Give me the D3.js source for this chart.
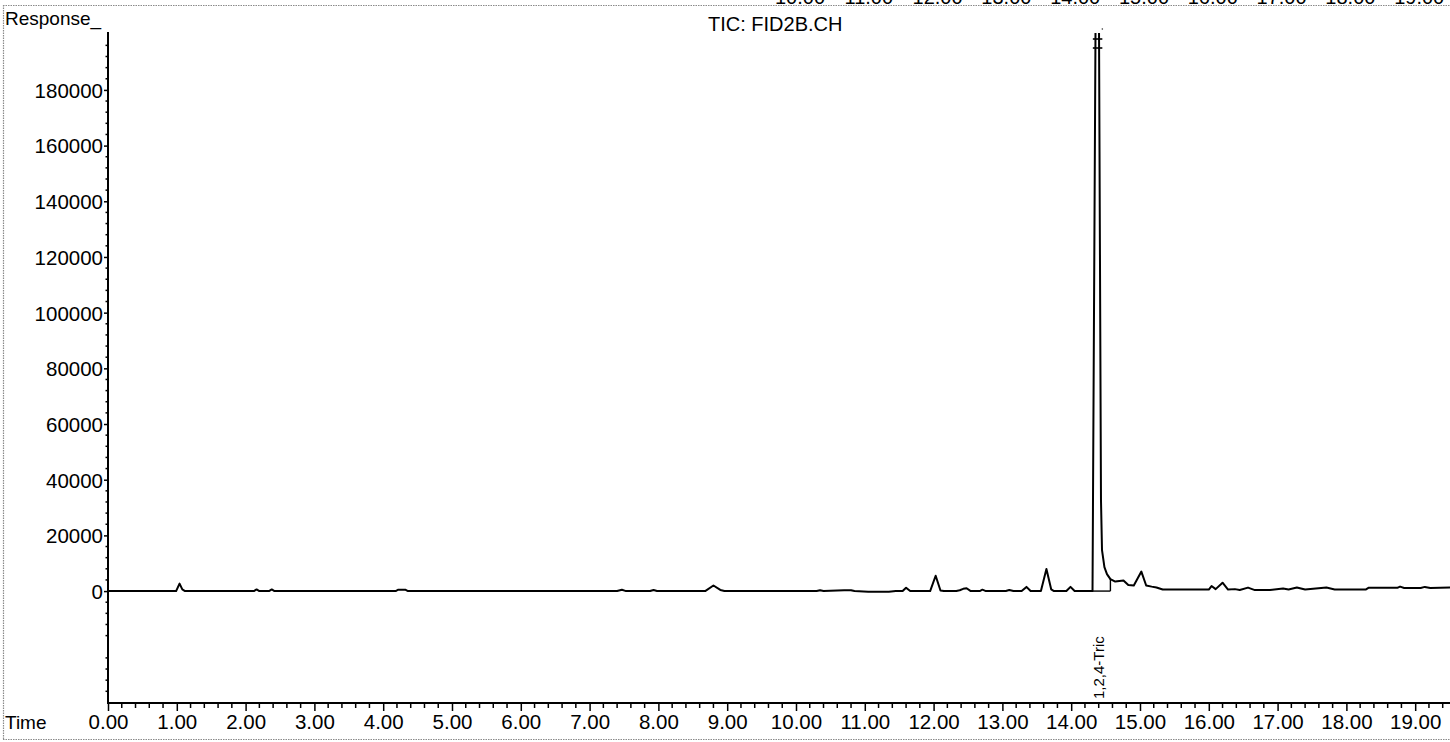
<!DOCTYPE html>
<html><head><meta charset="utf-8">
<script src="https://cdn.jsdelivr.net/npm/d3@7"></script>
<style>
body{margin:0;background:#fff}
svg{display:block}
text{font-family:"Liberation Sans",Arial,Helvetica,sans-serif;fill:#000}
</style>
</head><body>
<svg id="c" width="1450" height="742"></svg>
<script>
// ---- data (retention time in min, detector response) ----
const times = [0,0.99,1.04,1.08,1.12,2.12,2.16,2.20,2.34,2.38,2.42,4.18,4.22,4.32,4.36,
  7.40,7.47,7.53,7.88,7.93,7.98,8.68,8.80,8.90,8.96,10.30,10.35,10.40,10.70,10.80,10.85,
  11.05,11.35,11.45,11.55,11.60,11.66,11.95,12.03,12.10,12.15,12.33,12.38,12.43,12.48,12.54,
  12.67,12.71,12.76,13.05,13.10,13.16,13.28,13.35,13.41,13.56,13.64,13.71,13.75,13.93,13.99,14.05,
  14.31,14.382,14.433,14.448,14.483,14.52,14.57,14.64,14.76,14.83,14.91,15.02,15.09,15.17,15.24,15.33,
  16.0,16.04,16.10,16.20,16.28,16.38,16.45,16.57,16.67,16.89,17.08,17.16,17.28,17.40,17.71,17.83,
  18.28,18.32,18.74,18.78,18.84,19.08,19.14,19.22,19.51];
const responses = [0,0,2700,600,0,0,600,0,0,600,0,0,500,500,0,
  0,500,0,0,400,0,0,2000,400,0,0,300,0,300,300,0,
  -200,-200,0,0,1200,0,0,5500,200,0,0,300,800,1000,0,
  0,500,0,0,400,0,0,1500,0,0,7900,600,0,0,1500,0,
  0,334000,32700,14700,8600,6100,4300,3400,3800,2150,2000,7000,2000,1600,1300,540,
  540,1800,700,3000,540,700,360,1250,360,360,900,540,1250,540,1250,540,
  540,1150,1150,1600,1100,1100,1500,1100,1250];
const yTickValues = [0,20000,40000,60000,80000,100000,120000,140000,160000,180000];
const xTickValues = [0,1,2,3,4,5,6,7,8,9,10,11,12,13,14,15,16,17,18,19];
const topStripLabels = [10,11,12,13,14,15,16,17,18,19];
const titleText = "TIC: FID2B.CH";
const yAxisName = "Response_";
const xAxisName = "Time";
const peakNames = ["1,2,4-Tric"];
const peakTimes = [14.38];
const peakBaseStart = [14.31];
const peakBaseEnd = [14.57];
const peakBaseEndResp = [4300];

// ---- drawing ----
const svg = d3.select("#c");
const W = 1450, H = 742;
const L = 108, R = 1450, T = 32, B = 703;
const x = d3.scaleLinear().domain([0, 19.506]).range([L, R]);
const y = d3.scaleLinear().domain([-40200, 200800]).range([B, T]);

svg.append("rect").attr("width", W).attr("height", H).attr("fill", "#fff");

// dotted scan frame
const frame = svg.append("g").attr("stroke", "#8a8a8a").attr("stroke-width", 1.2)
  .attr("stroke-dasharray", "1.5,1").attr("fill", "none");
frame.append("line").attr("x1", 3).attr("x2", W).attr("y1", 5.5).attr("y2", 5.5);
frame.append("line").attr("x1", 3.5).attr("x2", 3.5).attr("y1", 5).attr("y2", 739);
frame.append("line").attr("x1", 3).attr("x2", W).attr("y1", 739.5).attr("y2", 739.5);

// clipped labels of the chart above (only bottoms visible)
svg.append("g").selectAll("text").data(topStripLabels).join("text")
  .attr("x", d => x(d) + 4).attr("y", 3.5).attr("text-anchor", "middle")
  .attr("font-size", 20).attr("fill", "#222").text(d => d3.format(".2f")(d));

// title and axis names
svg.append("text").attr("x", 708).attr("y", 31).attr("font-size", 20).text(titleText);
svg.append("text").attr("x", 5).attr("y", 25).attr("font-size", 19).text(yAxisName);
svg.append("text").attr("x", 5).attr("y", 729).attr("font-size", 19).text(xAxisName);

// Y axis
const yAxis = d3.axisLeft(y).tickValues(yTickValues).tickSize(4).tickPadding(1)
  .tickFormat(d3.format("d"));
const gy = svg.append("g").attr("transform", `translate(${L},0)`).call(yAxis);
gy.select(".domain").remove();
gy.selectAll(".tick line").attr("stroke", "#000").attr("stroke-width", 1.5);
gy.selectAll(".tick text").attr("font-size", 20.5).attr("font-family", null).attr("dy", "0.36em");
const yMinor = d3.range(-40000, 200001, 4000).filter(v => v % 20000 !== 0);
svg.append("g").selectAll("line").data(yMinor).join("line")
  .attr("x1", L - 2.5).attr("x2", L).attr("y1", d => y(d)).attr("y2", d => y(d))
  .attr("stroke", "#000").attr("stroke-width", 1.5);
svg.append("line").attr("x1", L).attr("x2", L).attr("y1", T).attr("y2", B + 1)
  .attr("stroke", "#000").attr("stroke-width", 2);

// X axis
const xAxis = d3.axisBottom(x).tickValues(xTickValues).tickSize(8).tickPadding(3)
  .tickFormat(d3.format(".2f"));
const gx = svg.append("g").attr("transform", `translate(0,${B})`).call(xAxis);
gx.select(".domain").remove();
gx.selectAll(".tick line").attr("stroke", "#000").attr("stroke-width", 1.5);
gx.selectAll(".tick text").attr("font-size", 20.5).attr("font-family", null);
const xMinor = d3.range(0, 19.5, 0.2).filter(v => Math.abs(v - Math.round(v)) > 1e-6);
svg.append("g").selectAll("line").data(xMinor).join("line")
  .attr("x1", d => x(d)).attr("x2", d => x(d)).attr("y1", B).attr("y2", B + 5)
  .attr("stroke", "#000").attr("stroke-width", 1.5);
svg.append("line").attr("x1", L).attr("x2", R).attr("y1", B).attr("y2", B)
  .attr("stroke", "#000").attr("stroke-width", 2);

// trace
svg.append("clipPath").attr("id", "plot").append("rect")
  .attr("x", L).attr("y", T + 1).attr("width", R - L).attr("height", B - T);
const pts = times.map((t, i) => [t, responses[i]]);
svg.append("path").datum(pts).attr("clip-path", "url(#plot)")
  .attr("fill", "none").attr("stroke", "#000").attr("stroke-width", 2)
  .attr("stroke-linejoin", "round")
  .attr("d", d3.line().x(d => x(d[0])).y(d => y(d[1])));

// integration baseline / drop line
peakNames.forEach((name, i) => {
  const g = svg.append("g").attr("stroke", "#000").attr("stroke-width", 1.4).attr("fill", "none");
  g.append("line").attr("x1", x(peakBaseStart[i])).attr("x2", x(peakBaseEnd[i]))
    .attr("y1", y(0)).attr("y2", y(0));
  g.append("line").attr("x1", x(peakBaseEnd[i])).attr("x2", x(peakBaseEnd[i]))
    .attr("y1", y(0)).attr("y2", y(peakBaseEndResp[i]));
  // off-scale hash marks at the top of the peak
  const px = x(peakTimes[i]);
  [39, 48].forEach(yy => g.append("line").attr("x1", px - 4.5).attr("x2", px + 5)
    .attr("y1", yy).attr("y2", yy).attr("stroke-width", 1.6));
  svg.append("circle").attr("cx", px + 5).attr("cy", 29).attr("r", 0.8).attr("fill", "#333");
  // vertical peak name
  svg.append("text").attr("transform", `translate(${px + 6.5},699) rotate(-90)`)
    .attr("font-size", 15).text(name);
});
</script>
</body></html>
